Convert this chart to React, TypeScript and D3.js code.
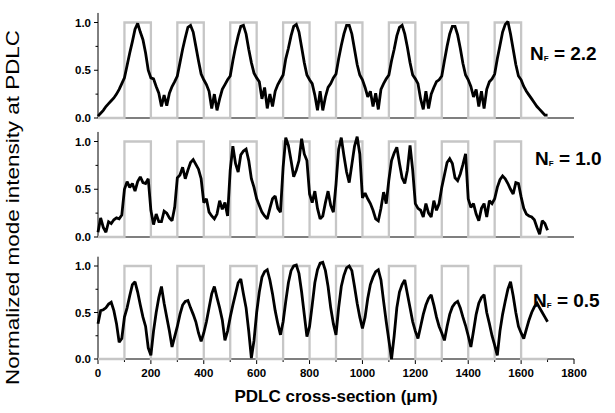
import React from "react";
import * as d3 from "d3";

// sample grid (µm) of the measured profiles
const positions: number[] = d3.range(0, 1701, 10);

// N_F = 2.2
const nf22: number[] = [
  0.02, 0.05, 0.08, 0.12, 0.15, 0.18, 0.21, 0.25, 0.30, 0.36,
  0.42, 0.55, 0.68, 0.80, 0.93, 0.99, 0.90, 0.82, 0.68, 0.50,
  0.42, 0.41, 0.33, 0.26, 0.12, 0.24, 0.13, 0.26, 0.33, 0.38,
  0.44, 0.58, 0.72, 0.84, 0.95, 0.97, 0.90, 0.75, 0.60, 0.46,
  0.40, 0.35, 0.28, 0.10, 0.25, 0.08, 0.20, 0.30, 0.35, 0.40,
  0.44, 0.60, 0.74, 0.86, 0.96, 0.97, 0.88, 0.72, 0.58, 0.47,
  0.42, 0.38, 0.20, 0.32, 0.10, 0.25, 0.12, 0.28, 0.35, 0.40,
  0.45, 0.62, 0.73, 0.86, 0.96, 0.98, 0.90, 0.74, 0.58, 0.45,
  0.40, 0.36, 0.24, 0.08, 0.28, 0.08, 0.22, 0.32, 0.36, 0.42,
  0.46, 0.62, 0.76, 0.88, 0.97, 0.97, 0.88, 0.72, 0.56, 0.45,
  0.40, 0.32, 0.22, 0.28, 0.12, 0.26, 0.09, 0.30, 0.36, 0.41,
  0.45, 0.60, 0.72, 0.86, 0.95, 0.97, 0.88, 0.74, 0.58, 0.45,
  0.41, 0.36, 0.20, 0.09, 0.28, 0.10, 0.25, 0.32, 0.38, 0.40,
  0.44, 0.60, 0.75, 0.88, 0.96, 0.96, 0.87, 0.73, 0.57, 0.45,
  0.40, 0.33, 0.22, 0.30, 0.12, 0.28, 0.10, 0.30, 0.38, 0.41,
  0.46, 0.62, 0.76, 0.90, 0.98, 1.01, 0.88, 0.72, 0.56, 0.44,
  0.40, 0.33, 0.28, 0.24, 0.20, 0.16, 0.12, 0.09, 0.06, 0.03,
  0.03,
];

// N_F = 1.0
const nf10: number[] = [
  0.05, 0.20, 0.10, 0.05, 0.16, 0.14, 0.18, 0.20, 0.19, 0.23,
  0.50, 0.58, 0.52, 0.56, 0.48, 0.58, 0.63, 0.57, 0.56, 0.61,
  0.28, 0.13, 0.24, 0.16, 0.16, 0.27, 0.25, 0.20, 0.17, 0.31,
  0.62, 0.65, 0.73, 0.61, 0.70, 0.78, 0.81, 0.76, 0.71, 0.61,
  0.36, 0.40, 0.26, 0.22, 0.19, 0.24, 0.38, 0.29, 0.36, 0.22,
  0.70, 0.95, 0.77, 0.68, 0.86, 0.90, 0.92, 0.80, 0.61, 0.52,
  0.40, 0.33, 0.26, 0.22, 0.19, 0.30, 0.40, 0.43, 0.30, 0.26,
  0.73, 1.04, 0.96, 0.80, 0.63, 0.70, 0.80, 1.03, 0.87, 0.80,
  0.45, 0.36, 0.48, 0.30, 0.19, 0.22, 0.36, 0.48, 0.33, 0.26,
  0.55, 0.92, 1.04, 0.85, 0.68, 0.57, 0.76, 0.95, 1.05, 0.87,
  0.41, 0.46, 0.40, 0.35, 0.28, 0.19, 0.17, 0.30, 0.47, 0.35,
  0.60, 0.80, 0.88, 0.94, 0.77, 0.62, 0.56, 0.70, 0.96, 0.70,
  0.35, 0.30, 0.28, 0.21, 0.35, 0.25, 0.21, 0.38, 0.28, 0.35,
  0.52, 0.65, 0.78, 0.82, 0.77, 0.62, 0.59, 0.66, 0.76, 0.87,
  0.40, 0.31, 0.35, 0.24, 0.17, 0.30, 0.35, 0.21, 0.38, 0.35,
  0.40, 0.52, 0.60, 0.64, 0.61, 0.56, 0.50, 0.45, 0.57, 0.56,
  0.42, 0.30, 0.24, 0.22, 0.21, 0.18, 0.10, 0.03, 0.17, 0.14,
  0.07,
];

// N_F = 0.5
const nf05: number[] = [
  0.38, 0.52, 0.53, 0.55, 0.59, 0.61, 0.52, 0.38, 0.18, 0.22,
  0.45, 0.55, 0.68, 0.80, 0.83, 0.72, 0.58, 0.45, 0.35, 0.12,
  0.04, 0.30, 0.50, 0.66, 0.78, 0.60, 0.45, 0.30, 0.13, 0.24,
  0.35, 0.48, 0.58, 0.62, 0.63, 0.55, 0.48, 0.40, 0.28, 0.19,
  0.28, 0.40, 0.55, 0.70, 0.78, 0.66, 0.55, 0.42, 0.20, 0.30,
  0.45, 0.58, 0.70, 0.82, 0.86, 0.70, 0.55, 0.30, 0.01, 0.20,
  0.50, 0.72, 0.88, 0.94, 0.96, 0.85, 0.70, 0.52, 0.38, 0.26,
  0.40, 0.62, 0.82, 0.95, 1.00, 1.01, 0.92, 0.72, 0.48, 0.24,
  0.35, 0.58, 0.82, 0.96, 1.03, 1.04, 0.95, 0.78, 0.55, 0.38,
  0.26, 0.55, 0.78, 0.90, 0.98, 1.00, 0.95, 0.78, 0.60, 0.45,
  0.33, 0.45, 0.65, 0.80, 0.88, 0.94, 0.96, 0.85, 0.62, 0.40,
  0.20, 0.00, 0.25, 0.55, 0.72, 0.80, 0.85, 0.70, 0.55, 0.40,
  0.30, 0.22, 0.35, 0.48, 0.58, 0.65, 0.69, 0.58, 0.45, 0.35,
  0.28, 0.20, 0.35, 0.48, 0.56, 0.60, 0.62, 0.55, 0.45, 0.36,
  0.25, 0.13, 0.30, 0.48, 0.60, 0.66, 0.69, 0.50, 0.38, 0.25,
  0.15, 0.04, 0.30, 0.48, 0.62, 0.75, 0.83, 0.68, 0.50, 0.35,
  0.28, 0.22, 0.32, 0.42, 0.50, 0.56, 0.60, 0.55, 0.50, 0.45,
  0.40,
];

// grey reference square wave (PDLC structure)
const waveEdges: number[] = [0, 100, 200, 300, 400, 500, 600, 700, 800, 900, 1000, 1100, 1200, 1300, 1400, 1500, 1600, 1700];
const waveLevels: number[] = [0, 1, 0, 1, 0, 1, 0, 1, 0, 1, 0, 1, 0, 1, 0, 1, 0, 0];

const xTicks: number[] = [0, 200, 400, 600, 800, 1000, 1200, 1400, 1600, 1800];
const xMinorTicks: number[] = [100, 300, 500, 700, 900, 1100, 1300, 1500, 1700];
const yTicks: number[] = [0, 0.5, 1.0];
const yMinorTicks: number[] = [0.25, 0.75];
const nfLabels: string[] = ["2.2", "1.0", "0.5"];

const FONT = "Arial, 'Liberation Sans', Helvetica, sans-serif";

export default function App() {
  const x = d3.scaleLinear().domain([0, 1800]).range([98, 574]);
  const panels = [
    { vals: nf22, y0: 118, y1: 22.5, lx: 530, ly: 60 },
    { vals: nf10, y0: 237, y1: 141.5, lx: 535, ly: 165 },
    { vals: nf05, y0: 359, y1: 266, lx: 533, ly: 307 },
  ];

  return (
    <svg
      width={615}
      height={413}
      style={{ position: "absolute", left: 0, top: 0, background: "#fff" }}
      fontFamily={FONT}
    >
      <rect width={615} height={413} fill="#fff" />
      {panels.map((p, pi) => {
        const y = d3.scaleLinear().domain([0, 1]).range([p.y0, p.y1]);
        const line = d3
          .line<number>()
          .x((_, i) => x(positions[i]))
          .y((d) => y(d))
          .curve(d3.curveLinear);
        const wave = d3
          .line<number>()
          .x((_, i) => x(waveEdges[i]))
          .y((d) => y(d))
          .curve(d3.curveStepAfter);
        const isBottom = pi === panels.length - 1;
        return (
          <g key={pi}>
            <line x1={x(0)} x2={x(0)} y1={y(0)} y2={y(1.1)} stroke="#000" strokeWidth={1} />
            <line x1={x(0)} x2={x(1800)} y1={y(0)} y2={y(0)} stroke="#000" strokeWidth={1.2} />
            {yTicks.map((t) => (
              <g key={t}>
                <line x1={x(0) - 4} x2={x(0)} y1={y(t)} y2={y(t)} stroke="#000" strokeWidth={1} />
                <text
                  x={x(0) - 7}
                  y={y(t)}
                  dy="0.35em"
                  textAnchor="end"
                  fontSize={11.5}
                  fontWeight="bold"
                >
                  {t.toFixed(1)}
                </text>
              </g>
            ))}
            {yMinorTicks.map((t) => (
              <line key={t} x1={x(0) - 2.5} x2={x(0)} y1={y(t)} y2={y(t)} stroke="#000" strokeWidth={1} />
            ))}
            {isBottom &&
              xTicks.map((t) => (
                <g key={t}>
                  <line x1={x(t)} x2={x(t)} y1={y(0)} y2={y(0) + 5} stroke="#000" strokeWidth={1} />
                  <text x={x(t)} y={y(0) + 18} textAnchor="middle" fontSize={11.5} fontWeight="bold">
                    {t}
                  </text>
                </g>
              ))}
            {isBottom &&
              xMinorTicks.map((t) => (
                <line key={t} x1={x(t)} x2={x(t)} y1={y(0)} y2={y(0) + 3} stroke="#000" strokeWidth={1} />
              ))}
            <path d={wave(waveLevels) || ""} fill="none" stroke="#c6c6c6" strokeWidth={2.3} />
            <path
              d={line(p.vals) || ""}
              fill="none"
              stroke="#000"
              strokeWidth={2.8}
              strokeLinejoin="miter"
              strokeMiterlimit={2}
            />
            <text x={p.lx} y={p.ly} fontSize={19} fontWeight="bold">
              N
              <tspan fontSize={8} dy={1}>F</tspan>
              <tspan dy={-1}>{" = " + nfLabels[pi]}</tspan>
            </text>
          </g>
        );
      })}
      <text x={336} y={402} textAnchor="middle" fontSize={17} fontWeight="bold">
        PDLC cross-section (μm)
      </text>
      <text
        transform="translate(18.5,207.5) rotate(-90)"
        textAnchor="middle"
        fontSize={19}
        textLength={355}
        lengthAdjust="spacingAndGlyphs"
      >
        Normalized mode intensity at PDLC
      </text>
    </svg>
  );
}
